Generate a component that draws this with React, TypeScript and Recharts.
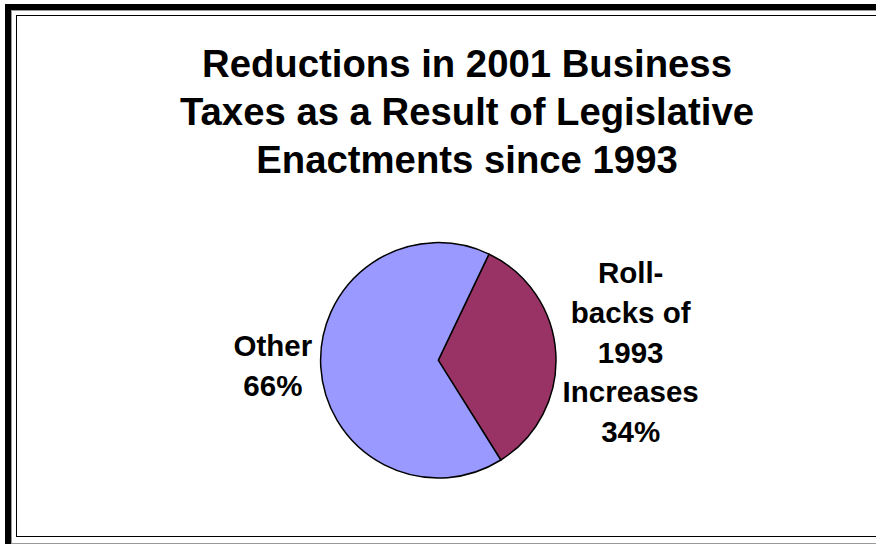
import React from "react";
import { PieChart, Pie, Cell } from "recharts";

// Shares of the 2001 business tax reduction
const categories = ["Roll-backs of 1993 Increases", "Other"];
const shares = [34, 66];
const sliceColors = ["#993366", "#9999FF"];
const labelLines = [
  ["Roll-", "backs of", "1993", "Increases", "34%"],
  ["Other", "66%"],
];
const titleLines = [
  "Reductions in 2001 Business",
  "Taxes as a Result of Legislative",
  "Enactments since 1993",
];

const data = categories.map((name, i) => ({ name, value: shares[i] }));

const FONT = '"Liberation Sans", Arial, sans-serif';
const LINE_H = 39.7;
// label placement beyond the rim, per slice
const labelGap = [75, 48];
const labelDy = [13.5, 6];

const renderLabel = (props: any) => {
  const { cx, cy, midAngle, outerRadius, index } = props;
  const rad = (Math.PI / 180) * midAngle;
  const r = outerRadius + labelGap[index];
  const x = cx + r * Math.cos(rad);
  const y = cy - r * Math.sin(rad);
  const lines = labelLines[index];
  const first = y - ((lines.length - 1) * LINE_H) / 2 + labelDy[index];
  return (
    <text
      x={x}
      y={first}
      textAnchor="middle"
      fontFamily={FONT}
      fontWeight="bold"
      fontSize={29.5}
      fill="#000"
    >
      {lines.map((l, i) => (
        <tspan key={i} x={x} y={first + i * LINE_H}>
          {l}
        </tspan>
      ))}
    </text>
  );
};

export default function App() {
  return (
    <div
      style={{
        position: "absolute",
        left: 0,
        top: 0,
        width: 876,
        height: 544,
        overflow: "hidden",
        background: "#fff",
      }}
    >
      {/* outer thick frame, cut off on the right and bottom */}
      <div
        style={{
          position: "absolute",
          left: 5,
          top: 4,
          width: 1000,
          height: 700,
          borderLeft: "6px solid #000",
          borderTop: "6px solid #000",
        }}
      />
      <div
        style={{
          position: "absolute",
          left: 11,
          top: 10,
          width: 1000,
          height: 532,
          borderLeft: "1px solid #999",
          borderTop: "1px solid #999",
          borderBottom: "2px solid #999",
        }}
      />
      {/* inner chart area frame */}
      <div
        style={{
          position: "absolute",
          left: 16,
          top: 15,
          width: 1000,
          height: 520,
          borderLeft: "1.5px solid #000",
          borderTop: "1.5px solid #000",
          borderBottom: "1.5px solid #000",
        }}
      />
      <svg
        width={876}
        height={544}
        style={{ position: "absolute", left: 0, top: 0 }}
      >
        {titleLines.map((t, i) => (
          <text
            key={t}
            x={467}
            y={76.7 + i * 48.3}
            textAnchor="middle"
            fontFamily={FONT}
            fontWeight="bold"
            fontSize={38.3}
            fill="#000"
          >
            {t}
          </text>
        ))}
      </svg>
      <div style={{ position: "absolute", left: 0, top: 0 }}>
        <PieChart
          width={876}
          height={544}
          margin={{ top: 0, right: 0, bottom: 0, left: 0 }}
        >
          <Pie
            data={data}
            dataKey="value"
            nameKey="name"
            cx={438.3}
            cy={360.3}
            outerRadius={117.7}
            startAngle={64.5}
            endAngle={-295.5}
            stroke="#000"
            strokeWidth={1.5}
            label={renderLabel}
            labelLine={false}
            isAnimationActive={false}
          >
            {data.map((d, i) => (
              <Cell key={d.name} fill={sliceColors[i]} />
            ))}
          </Pie>
        </PieChart>
      </div>
    </div>
  );
}
